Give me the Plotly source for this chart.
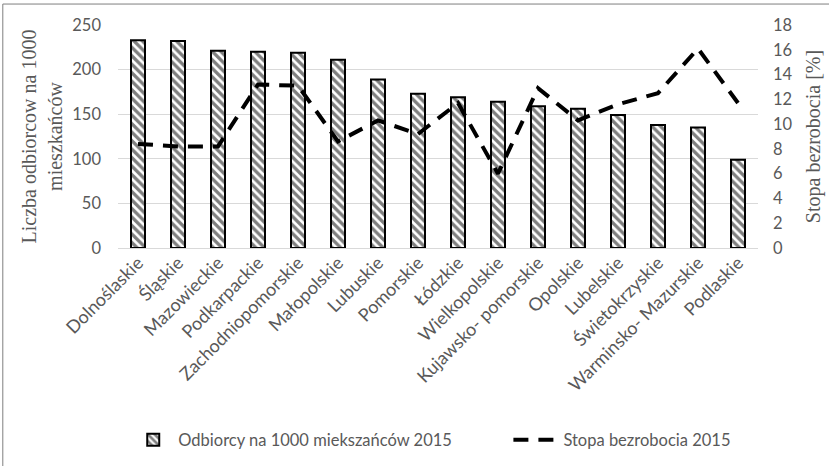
import plotly.graph_objects as go

regions = ["Dolnoślaskie", "Śląskie", "Mazowieckie", "Podkarpackie", "Zachodniopomorskie",
           "Małopolskie", "Lubuskie", "Pomorskie", "Łódzkie", "Wielkopolskie",
           "Kujawsko- pomorskie", "Opolskie", "Lubelskie", "Świetokrzyskie",
           "Warminsko- Mazurskie", "Podlaskie"]
odbiorcy = [233, 232, 221, 220, 219, 211, 189, 173, 169, 164, 159, 156, 149, 138, 135, 99]
bezrobocie = [8.4, 8.2, 8.2, 13.2, 13.1, 8.6, 10.3, 9.2, 11.7, 6.0, 12.9, 10.3, 11.6, 12.5, 16.1, 11.7]

bar_name = "Odbiorcy na 1000 miekszańców 2015"
line_name = "Stopa bezrobocia 2015"
left_ticks = [0, 50, 100, 150, 200, 250]
right_ticks = [0, 2, 4, 6, 8, 10, 12, 14, 16, 18]

GRAY = "#595959"
SANS = "Lato, Carlito, sans-serif"
TICKFONT = dict(family=SANS, size=16.5, color=GRAY)
CATFONT = dict(family=SANS, size=18, color=GRAY)
TITLEFONT = dict(family="Liberation Serif, Times New Roman, serif", size=20, color=GRAY)
LEGFONT = dict(family=SANS, size=16.5, color=GRAY)

fig = go.Figure()
fig.add_trace(go.Bar(
    x=regions, y=odbiorcy, name=bar_name, width=0.35, yaxis="y", legend="legend",
    marker=dict(color="white", line=dict(color="black", width=2),
                pattern=dict(shape="\\", fgcolor="black", bgcolor="white",
                             size=6, solidity=0.55)),
))
fig.add_trace(go.Scatter(
    x=regions, y=bezrobocie, name=line_name, yaxis="y2", mode="lines", legend="legend2",
    line=dict(color="black", width=4, dash="15px,10px"),
))

fig.update_layout(
    width=829, height=466,
    margin=dict(l=118, r=71, t=25, b=218, autoexpand=False),
    paper_bgcolor="white", plot_bgcolor="white",
    showlegend=True,
    legend=dict(orientation="h", x=0.016, xanchor="left", y=-0.861, yanchor="middle",
                font=LEGFONT, itemwidth=40, bgcolor="rgba(0,0,0,0)"),
    legend2=dict(orientation="h", x=0.61, xanchor="left", y=-0.861, yanchor="middle",
                 font=LEGFONT, itemwidth=45, bgcolor="rgba(0,0,0,0)"),
    xaxis=dict(tickangle=-45, tickfont=CATFONT, showgrid=False, showline=False,
               ticks="", zeroline=False, automargin=False),
    yaxis=dict(range=[0, 250], tickvals=left_ticks, tickfont=TICKFONT,
               showgrid=True, gridcolor="#d9d9d9", gridwidth=1,
               zeroline=True, zerolinecolor="#d9d9d9", zerolinewidth=1,
               showline=False, ticks="", ticklabelstandoff=16, automargin=False,
               title=dict(text="Liczba odbiorcow na 1000<br>mieszkańców", font=TITLEFONT,
                          standoff=4)),
    yaxis2=dict(range=[0, 18], tickvals=right_ticks, tickfont=TICKFONT, overlaying="y",
                side="right", showgrid=False, zeroline=False, showline=False, ticks="",
                ticklabelstandoff=14, automargin=False,
                title=dict(text="Stopa bezrobocia [%]", font=TITLEFONT, standoff=14)),
    bargap=0.65,
)

# chart border (left and top edges visible)
fig.add_shape(type="line", xref="paper", yref="paper", x0=-0.18, x1=1.12, y0=1.094, y1=1.094,
              line=dict(color="#7f7f7f", width=1))
fig.add_shape(type="line", xref="paper", yref="paper", x0=-0.18, x1=-0.18, y0=1.094, y1=-0.98,
              line=dict(color="#7f7f7f", width=1))

fig.write_html("out.html", config={"displayModeBar": False},
               post_script="document.body.style.margin='0px';document.body.style.overflow='hidden';")
